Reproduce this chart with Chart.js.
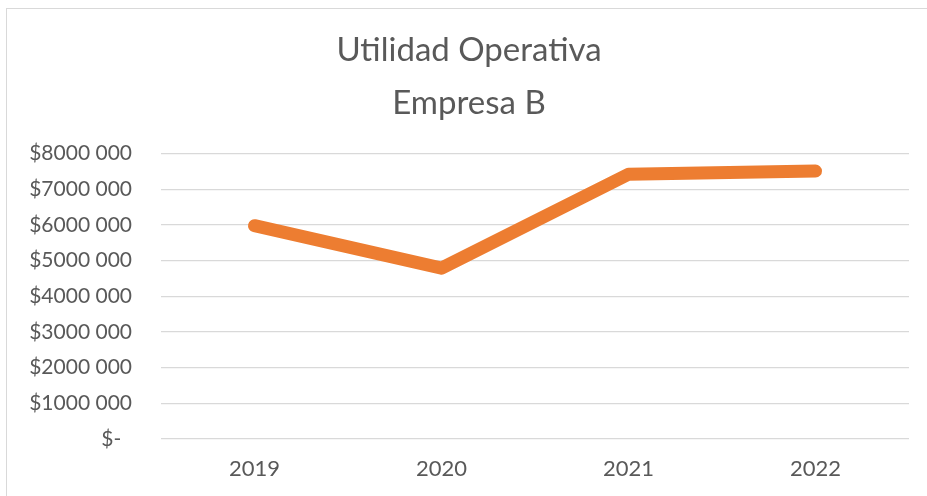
<!DOCTYPE html>
<html>
<head>
<meta charset="utf-8">
<script src="https://cdn.jsdelivr.net/npm/chart.js@4/dist/chart.umd.min.js"></script>
<style>
html,body{margin:0;padding:0;background:#fff;}
#wrap{width:927px;height:496px;position:relative;}
</style>
</head>
<body>
<div id="wrap"><canvas id="c" width="927" height="496"></canvas></div>
<script>
const years = ['2019', '2020', '2021', '2022'];
const utilidad = [5980000, 4790000, 7420000, 7510000];
const titleLines = ['Utilidad Operativa', 'Empresa B'];

const fmt = v => {
  if (v === 0) return '$-  ';
  const m = Math.floor(v / 1000000);
  const rest = String(v % 1000000).padStart(6, '0').slice(0, 3);
  return '$' + m + '000 ' + rest;
};

const borderPlugin = {
  id: 'border',
  beforeDraw(chart) {
    const ctx = chart.ctx;
    ctx.save();
    ctx.fillStyle = '#fff';
    ctx.fillRect(0, 0, chart.width, chart.height);
    ctx.strokeStyle = '#d9d9d9';
    ctx.lineWidth = 1;
    ctx.strokeRect(6.5, 8.5, 925, 500);
    ctx.restore();
  }
};

new Chart(document.getElementById('c'), {
  type: 'line',
  data: {
    labels: years,
    datasets: [{
      data: utilidad,
      borderColor: '#ED7D31',
      backgroundColor: '#ED7D31',
      borderWidth: 13,
      borderCapStyle: 'round',
      borderJoinStyle: 'round',
      pointRadius: 0,
      tension: 0,
      fill: false
    }]
  },
  options: {
    responsive: false,
    animation: false,
    layout: { padding: { left: 29, right: 18, top: 0, bottom: 16 } },
    plugins: {
      legend: { display: false },
      tooltip: { enabled: false },
      title: {
        display: true,
        text: titleLines,
        color: '#595959',
        font: { family: 'Lato', size: 33, weight: 'normal', lineHeight: 1.6 },
        padding: { top: 24, bottom: 24 }
      }
    },
    scales: {
      x: {
        offset: true,
        grid: { display: false, drawTicks: false },
        border: { display: false },
        afterFit(s) { s.height = 41; },
        ticks: { color: '#595959', font: { family: 'Lato', size: 22 }, padding: 17 }
      },
      y: {
        min: 0, max: 8000000,
        grid: { color: '#d9d9d9', lineWidth: 1.3, drawTicks: false },
        border: { display: false },
        afterFit(s) { s.width = 132; },
        ticks: {
          stepSize: 1000000,
          color: '#595959',
          font: { family: 'Lato', size: 21 },
          padding: 29,
          callback: v => fmt(v)
        }
      }
    }
  },
  plugins: [borderPlugin]
});
</script>
</body>
</html>
